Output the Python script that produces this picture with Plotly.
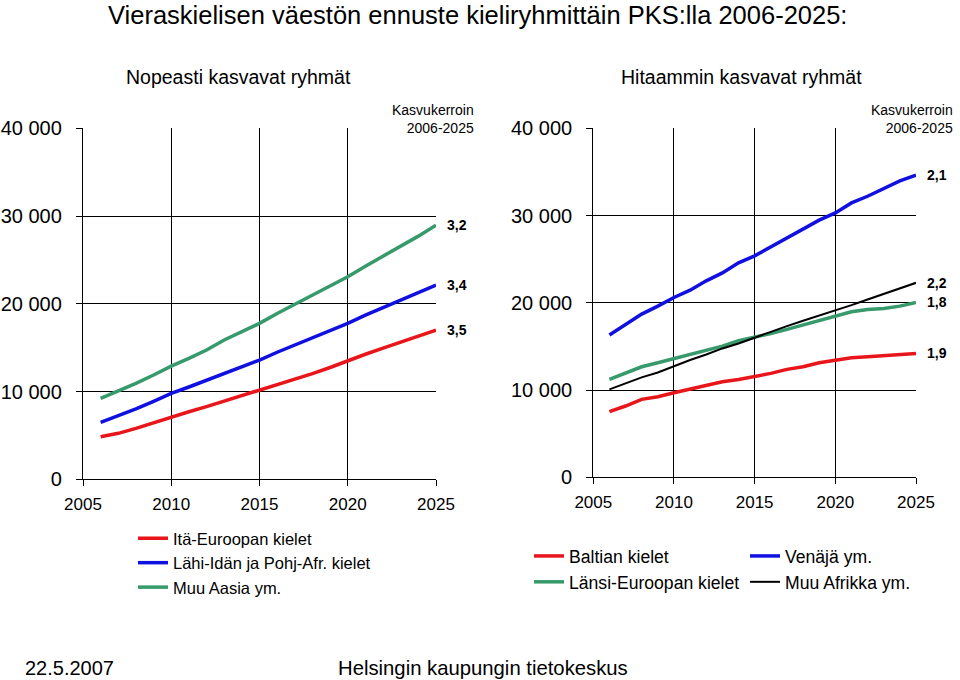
import plotly.graph_objects as go

years = list(range(2006, 2026))

# Left panel: fast growing groups
ita_euroopan = [4850, 5240, 5810, 6450, 7130, 7700, 8280, 8900, 9520, 10170,
                10830, 11420, 12050, 12740, 13510, 14250, 14940, 15620, 16380, 17000]
lahi_idan = [6490, 7250, 8020, 8880, 9790, 10520, 11290, 12060, 12780, 13590,
             14480, 15300, 16080, 16920, 17770, 18700, 19550, 20400, 21280, 22130]
muu_aasia = [9226, 10060, 10930, 11880, 12900, 13780, 14730, 15870, 16810, 17770,
             18900, 19930, 20990, 22010, 23080, 24290, 25430, 26490, 27710, 28960]

# Right panel: slower growing groups
baltian = [7520, 8170, 8930, 9240, 9690, 10080, 10570, 10950, 11220, 11530,
           11910, 12370, 12670, 13130, 13440, 13700, 13820, 13930, 14080, 14200]
venaja = [16300, 17520, 18700, 19620, 20610, 21450, 22520, 23430, 24580, 25380,
          26410, 27440, 28400, 29470, 30300, 31450, 32210, 33090, 33970, 34620]
lansi_euroopan = [11220, 11980, 12670, 13130, 13630, 14120, 14580, 15040, 15650, 16030,
                  16490, 16950, 17440, 17940, 18470, 18970, 19240, 19350, 19620, 20040]
muu_afrikka = [10080, 10760, 11450, 12020, 12750, 13440, 14080, 14770, 15340, 16030,
               16720, 17330, 17940, 18510, 19160, 19730, 20380, 20990, 21640, 22290]

left_factors = {"Itä-Euroopan kielet": "3,5", "Lähi-Idän ja Pohj-Afr. kielet": "3,4", "Muu Aasia ym.": "3,2"}
right_factors = {"Baltian kielet": "1,9", "Venäjä ym.": "2,1", "Länsi-Euroopan kielet": "1,8", "Muu Afrikka ym.": "2,2"}

y_tickvals = [0, 10000, 20000, 30000, 40000]
y_ticktext = ["0", "10 000", "20 000", "30 000", "40 000"]
x_tickvals = [2005, 2010, 2015, 2020, 2025]
x_ticktext = ["2005", "2010", "2015", "2020", "2025"]

RED = "#e8161a"
BLUE = "#1010e0"
GREEN = "#379a6a"
BLACK = "#000000"
FONT = "Liberation Sans, Arial, sans-serif"

W, H = 960, 680
def px(x):
    return x / W
def py(y):
    return 1 - y / H

fig = go.Figure()

left_series = [
    ("Itä-Euroopan kielet", ita_euroopan, RED, 3.5),
    ("Lähi-Idän ja Pohj-Afr. kielet", lahi_idan, BLUE, 3.5),
    ("Muu Aasia ym.", muu_aasia, GREEN, 3.5),
]
for name, vals, col, w in left_series:
    fig.add_trace(go.Scatter(x=years, y=vals, mode="lines", name=name,
                             line=dict(color=col, width=w), xaxis="x", yaxis="y",
                             legend="legend", hoverinfo="skip"))

right_series = [
    ("Baltian kielet", baltian, RED, 3.5, "legend2"),
    ("Länsi-Euroopan kielet", lansi_euroopan, GREEN, 3.5, "legend2"),
    ("Venäjä ym.", venaja, BLUE, 3.5, "legend3"),
    ("Muu Afrikka ym.", muu_afrikka, BLACK, 2, "legend3"),
]
for name, vals, col, w, lg in right_series:
    fig.add_trace(go.Scatter(x=years, y=vals, mode="lines", name=name,
                             line=dict(color=col, width=w), xaxis="x2", yaxis="y2",
                             legend=lg, hoverinfo="skip"))

axis_common_x = dict(range=[2005, 2025], tickvals=x_tickvals, ticktext=x_ticktext,
                     showgrid=True, gridcolor="black", gridwidth=1,
                     showline=True, linecolor="black", linewidth=1.3,
                     ticks="outside", ticklen=6, tickcolor="black", tickwidth=1.3,
                     tickfont=dict(size=17, color="black", family=FONT),
                     ticklabelstandoff=3, zeroline=False, fixedrange=True,
                     automargin=False)
axis_common_y = dict(range=[0, 40000], tickvals=y_tickvals, ticktext=y_ticktext,
                     showgrid=True, gridcolor="black", gridwidth=1,
                     showline=True, linecolor="black", linewidth=1.3,
                     ticks="outside", ticklen=6, tickcolor="black", tickwidth=1.3,
                     tickfont=dict(size=20, color="black", family=FONT),
                     ticklabelstandoff=10, zeroline=False, fixedrange=True,
                     automargin=False)

fig.update_layout(
    width=W, height=H, autosize=False,
    margin=dict(l=0, r=0, t=0, b=0, pad=0),
    paper_bgcolor="white", plot_bgcolor="white",
    font=dict(family=FONT, color="black"),
    xaxis=dict(domain=[px(83), px(436)], anchor="y", **axis_common_x),
    yaxis=dict(domain=[py(479.3), py(128.3)], anchor="x", **axis_common_y),
    xaxis2=dict(domain=[px(593.3), px(916)], anchor="y2", **axis_common_x),
    yaxis2=dict(domain=[py(477.3), py(128.3)], anchor="x2", **axis_common_y),
    legend=dict(x=px(133), y=py(521), xanchor="left", yanchor="top",
                font=dict(size=16.5, color="black", family=FONT),
                bgcolor="rgba(0,0,0,0)", tracegroupgap=0, traceorder="normal"),
    legend2=dict(x=px(529), y=py(538), xanchor="left", yanchor="top",
                 font=dict(size=17.6, color="black", family=FONT),
                 bgcolor="rgba(0,0,0,0)", traceorder="normal"),
    legend3=dict(x=px(745), y=py(538), xanchor="left", yanchor="top",
                 font=dict(size=17.6, color="black", family=FONT),
                 bgcolor="rgba(0,0,0,0)", traceorder="normal"),
    showlegend=True,
)

annotations = []
# Title and subtitles (kept inside the page so that no margin is pushed)
annotations.append(dict(text="Vieraskielisen väestön ennuste kieliryhmittäin PKS:lla 2006-2025:",
                        x=px(107), y=1, xref="paper", yref="paper",
                        xanchor="left", yanchor="top", showarrow=False, borderpad=0,
                        font=dict(size=25.5, color="black", family=FONT)))
annotations.append(dict(text="Nopeasti kasvavat ryhmät", x=px(238), y=py(77),
                        xref="paper", yref="paper", xanchor="center", yanchor="middle",
                        showarrow=False, font=dict(size=19.5, color="black", family=FONT)))
annotations.append(dict(text="Hitaammin kasvavat ryhmät", x=px(741), y=py(77),
                        xref="paper", yref="paper", xanchor="center", yanchor="middle",
                        showarrow=False, font=dict(size=19.5, color="black", family=FONT)))
# Kasvukerroin labels with white background to break the frame
for xr in (px(478), px(957)):
    annotations.append(dict(text="Kasvukerroin<br>2006-2025", x=xr, y=py(119),
                            xref="paper", yref="paper", xanchor="right", yanchor="middle",
                            align="right", showarrow=False, bgcolor="white", borderpad=3,
                            font=dict(size=14, color="black", family=FONT)))
# Growth factors at line ends
for name, vals, col, w in left_series:
    annotations.append(dict(text="<b>" + left_factors[name] + "</b>", x=years[-1], y=vals[-1],
                            xref="x", yref="y", xanchor="left", yanchor="middle",
                            xshift=9, showarrow=False,
                            font=dict(size=14, color="black", family=FONT)))
for name, vals, col, w, lg in right_series:
    annotations.append(dict(text="<b>" + right_factors[name] + "</b>", x=years[-1], y=vals[-1],
                            xref="x2", yref="y2", xanchor="left", yanchor="middle",
                            xshift=9, showarrow=False,
                            font=dict(size=14, color="black", family=FONT)))
# Footer (bottom-anchored inside the page)
annotations.append(dict(text="22.5.2007", x=px(24), y=0, xref="paper", yref="paper",
                        xanchor="left", yanchor="bottom", showarrow=False, borderpad=0,
                        font=dict(size=20, color="black", family=FONT)))
annotations.append(dict(text="Helsingin kaupungin tietokeskus", x=px(337), y=0,
                        xref="paper", yref="paper", xanchor="left", yanchor="bottom",
                        showarrow=False, borderpad=0,
                        font=dict(size=20.3, color="black", family=FONT)))

fig.update_layout(annotations=annotations)

fig.write_html("out.html", config={"displayModeBar": False},
               post_script="document.body.style.margin='0px';")
